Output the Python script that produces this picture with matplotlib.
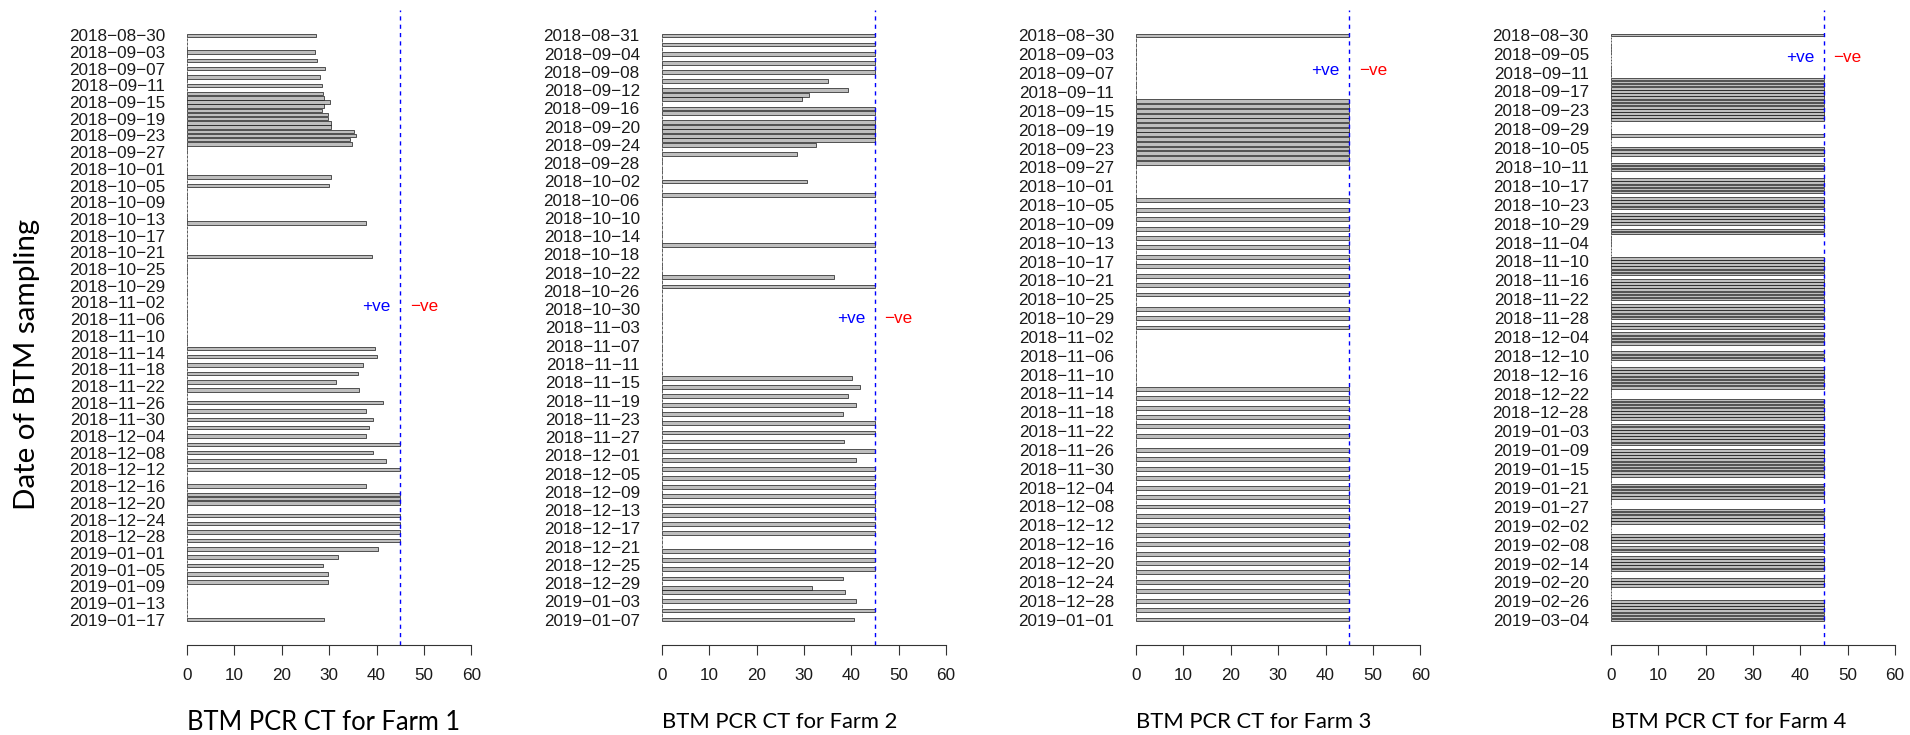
import numpy as np
import pandas as pd
import matplotlib.pyplot as plt
from matplotlib.transforms import blended_transform_factory

# sampling window of each farm: every calendar day gets its own slot on the y axis
farm_start = ['2018-08-30', '2018-08-31', '2018-08-30', '2018-08-30']
farm_end = ['2019-01-17', '2019-01-07', '2019-01-01', '2019-03-04']
farm_skip = [[], ['2019-01-01'], [], []]
label_step = [4, 4, 4, 6]

# days after the first date that had a BTM sample, and the CT read for it
farm1_day = [0, 4, 6, 8, 10, 12,
             14, 15, 16, 17, 18, 19, 20, 21, 22, 23, 24, 25, 26,
             34, 36, 45, 53,
             75, 77, 79, 81, 83, 85,
             88, 90, 92, 94, 96, 98, 100, 102, 104,
             108, 110, 111, 112, 115, 117, 119, 121,
             123, 125, 127, 129, 131, 140]
farm1_ct = [27.2, 26.9, 27.5, 29.2, 28.0, 28.5,
            28.7, 28.8, 30.2, 28.9, 28.5, 29.7, 29.7, 30.4, 30.4, 35.3, 35.6, 34.3, 34.8,
            30.4, 29.9, 37.8, 39.0,
            39.7, 40.0, 37.1, 36.1, 31.4, 36.3,
            41.4, 37.8, 39.2, 38.5, 37.8, 45, 39.2, 42.0, 45,
            37.8, 45, 45, 45, 45, 45, 45, 45,
            40.2, 31.9, 28.7, 29.7, 29.7, 28.9]

farm2_day = [0, 2, 4, 6, 8, 10, 12, 13, 14,
             16, 17, 19, 20, 21, 22, 23, 24, 26,
             32, 35, 46, 53, 55,
             75, 77, 79, 81, 83, 85, 87, 89, 91,
             93, 95, 97, 99, 101, 103, 105, 107, 109,
             113, 115, 117, 119, 121, 122, 125, 127, 129]
farm2_ct = [45, 45, 45, 45, 45, 35.0, 39.2, 31.1, 29.6,
            45, 45, 45, 45, 45, 45, 45, 32.5, 28.5,
            30.6, 45, 45, 36.3, 45,
            40.2, 41.9, 39.2, 40.9, 38.2, 45, 45, 38.5, 45,
            40.9, 45, 45, 45, 45, 45, 45, 45, 45,
            45, 45, 45, 38.2, 31.8, 38.7, 40.9, 45, 40.5]

farm3_day = [0,
             14, 15, 16, 17, 18, 19, 20, 21, 22, 23, 24, 25, 26, 27,
             35, 37, 39, 41, 43, 45, 47, 49, 51, 53, 55, 58, 60, 62,
             75, 77, 79, 81, 83, 85,
             88, 90, 92, 94, 96, 98, 100, 102, 104, 106,
             108, 110, 112, 114, 116, 118, 120, 122, 124]
farm3_ct = [45,
            45, 45, 45, 45, 45, 45, 45, 45, 45, 45, 45, 45, 45, 45,
            45, 45, 45, 45, 45, 45, 45, 45, 45, 45, 45, 45, 45, 45,
            45, 45, 45, 45, 45, 45,
            45, 45, 45, 45, 45, 45, 45, 45, 45, 45,
            45, 45, 45, 45, 45, 45, 45, 45, 45]

farm4_day = [0,
             14, 15, 16, 17, 18, 19, 20, 21, 22, 23, 24, 25, 26, 27,
             32, 36, 37, 38, 41, 42, 43, 46, 47, 48, 49, 50,
             52, 53, 54, 55, 57, 58, 59, 60, 62, 63,
             71, 72, 73, 74, 75, 76, 78, 79, 80, 81, 82, 83, 84,
             86, 87, 88, 89, 90, 92, 93, 95, 96, 97, 98,
             101, 102, 103, 106, 107, 108, 109, 110, 111, 112,
             116, 117, 118, 119, 120, 121, 122,
             124, 125, 126, 127, 128, 129, 130,
             132, 133, 134, 135, 136, 137, 138, 139, 140,
             143, 144, 145, 146, 147, 151, 152, 153, 154, 155,
             159, 160, 161, 163, 164, 166, 167, 168, 169, 170,
             173, 174, 175, 180, 181, 182, 183, 184, 185, 186]
farm4_ct = [45,
            45, 45, 45, 45, 45, 45, 45, 45, 45, 45, 45, 45, 45, 45,
            45, 45, 45, 45, 45, 45, 45, 45, 45, 45, 45, 45,
            45, 45, 45, 45, 45, 45, 45, 45, 45, 45,
            45, 45, 45, 45, 45, 45, 45, 45, 45, 45, 45, 45, 45,
            45, 45, 45, 45, 45, 45, 45, 45, 45, 45, 45,
            45, 45, 45, 45, 45, 45, 45, 45, 45, 45,
            45, 45, 45, 45, 45, 45, 45,
            45, 45, 45, 45, 45, 45, 45,
            45, 45, 45, 45, 45, 45, 45, 45, 45,
            45, 45, 45, 45, 45, 45, 45, 45, 45, 45,
            45, 45, 45, 45, 45, 45, 45, 45, 45, 45,
            45, 45, 45, 45, 45, 45, 45, 45, 45, 45]

farm_day = [farm1_day, farm2_day, farm3_day, farm4_day]
farm_ct = [farm1_ct, farm2_ct, farm3_ct, farm4_ct]
farm_names = ['Farm 1', 'Farm 2', 'Farm 3', 'Farm 4']
cutoff = 45
# row (slot) where the +ve / -ve note sits in each panel
note_slot = [65, 62, 7.5, 7.2]

tick_font = 'Liberation Sans'
label_font = 'Lato'

W, H = 1910, 735
fig = plt.figure(figsize=(W / 100, H / 100), dpi=100)
renderer = fig.canvas.get_renderer()

zero_px = [187, 661.7, 1136, 1610.7]
unit_px = 4.74
xlab_width = [274, 236, 236, 236]

for k in range(4):
    dates = pd.date_range(farm_start[k], farm_end[k])
    dates = dates[~dates.isin(pd.to_datetime(farm_skip[k]))]
    n = len(dates)
    ct = np.zeros(n)
    sampled = pd.Timestamp(farm_start[k]) + pd.to_timedelta(farm_day[k], unit='D')
    ct[dates.get_indexer(sampled)] = farm_ct[k]

    left = zero_px[k] - 2.4 * unit_px
    ax = fig.add_axes([left / W, 90 / H, 64.8 * unit_px / W, 635 / H])
    y = np.arange(n)
    ax.barh(y, ct, height=1 / 1.2, color='#bebebe', edgecolor='black', linewidth=0.45)

    lo = -0.4167 - 0.04 * (n - 0.1667)
    hi = n - 0.583 + 0.04 * (n - 0.1667)
    ax.set_ylim(hi, lo)
    ax.set_xlim(-2.4, 62.4)
    ax.axvline(cutoff, color='blue', lw=1, ls=(0, (3, 3)))

    ax.text(40, note_slot[k], '+ve', color='blue', ha='center', va='center',
            fontsize=12.3, family=tick_font)
    ax.text(50, note_slot[k], '\u2212ve', color='red', ha='center', va='center',
            fontsize=12.3, family=tick_font)

    for s in ['top', 'right', 'left']:
        ax.spines[s].set_visible(False)
    ax.spines['bottom'].set_bounds(0, 60)
    ax.spines['bottom'].set_color('#333333')
    ax.set_xticks(np.arange(0, 61, 10))
    ax.tick_params(axis='x', length=7.2, width=0.8, color='#333333', pad=9,
                   labelsize=12.3)
    ax.set_yticks(y[::label_step[k]])
    ax.set_yticklabels([d.strftime('%Y-%m-%d').replace('-', '\u2212')
                        for d in dates[::label_step[k]]])
    ax.tick_params(axis='y', length=0, pad=7.6, labelsize=12.3)
    for lab in ax.get_xticklabels() + ax.get_yticklabels():
        lab.set_family(tick_font)
        lab.set_color('#1a1a1a')

    xl = ax.text(0, 1 - 722 / H, 'BTM PCR CT for ' + farm_names[k],
                 transform=blended_transform_factory(ax.transData, fig.transFigure),
                 ha='left', va='center', fontsize=16, family=label_font)
    w = xl.get_window_extent(renderer).width
    xl.set_fontsize(16 * xlab_width[k] / w)

yl = fig.text(27 / W, 1 - 364 / H, 'Date of BTM sampling', rotation=90,
              ha='center', va='center', fontsize=18, family=label_font)
h = yl.get_window_extent(renderer).height
yl.set_fontsize(18 * 290 / h)

fig.savefig('out.png', dpi=100)
